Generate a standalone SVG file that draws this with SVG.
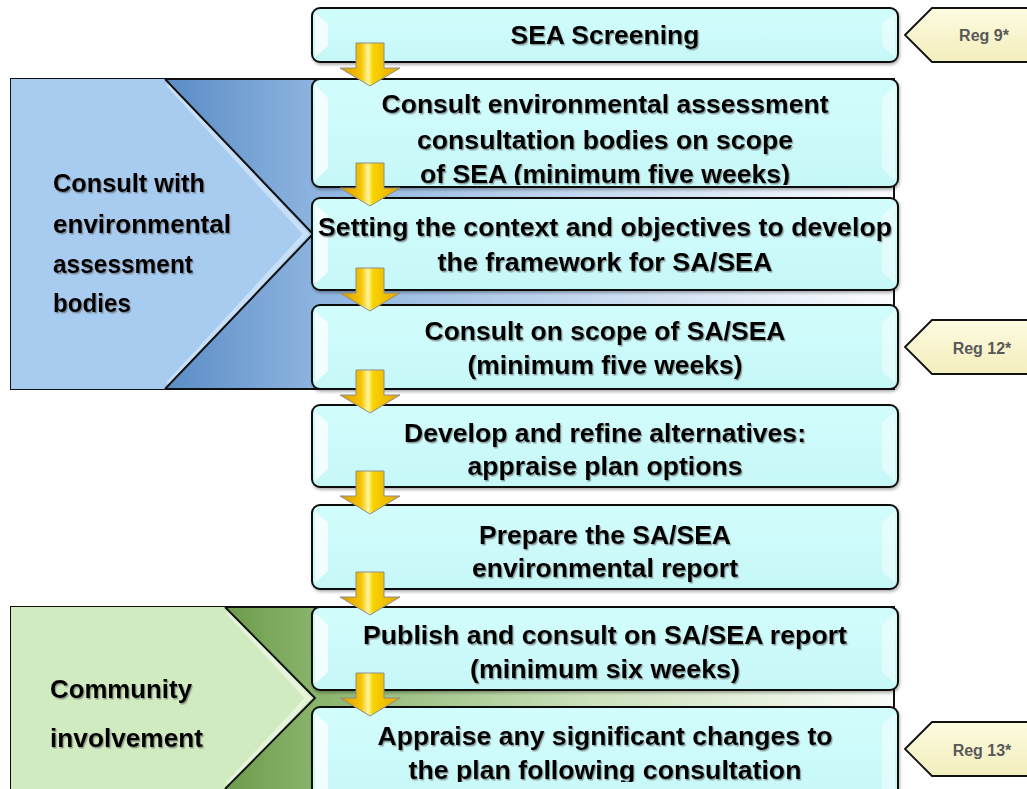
<svg xmlns="http://www.w3.org/2000/svg" width="1027" height="789" viewBox="0 0 1027 789">
<style>
.box{fill:url(#boxG);stroke:#111;stroke-width:2}
.bev{fill:#fff;opacity:0.75}
.bevR{fill:#fff;opacity:0.45}
.bt{font-family:"Liberation Sans",Arial,sans-serif;font-weight:bold;font-size:26px;fill:#000;text-anchor:middle;filter:url(#ts)}
.pt{font-family:"Liberation Sans",Arial,sans-serif;font-weight:bold;font-size:25px;fill:#000;filter:url(#ts)}
.tag{fill:url(#tagG);stroke:#111;stroke-width:1.8}
.tt{font-family:"Liberation Sans",Arial,sans-serif;font-weight:bold;font-size:16px;fill:#595959;text-anchor:middle}
.arr{fill:url(#arrG);stroke:#8c8c8c;stroke-width:1}
.edge{fill:none;stroke:#111;stroke-width:2}
</style>
<defs>
<linearGradient id="boxG" x1="0" y1="0" x2="0" y2="1">
<stop offset="0" stop-color="#d3fdfd"/><stop offset="1" stop-color="#c6f7f7"/>
</linearGradient>
<linearGradient id="blueBg" gradientUnits="userSpaceOnUse" x1="165" y1="0" x2="893" y2="0">
<stop offset="0" stop-color="#5a8cc6"/><stop offset="0.2" stop-color="#8cb3df"/><stop offset="0.6" stop-color="#c8dbf0"/><stop offset="1" stop-color="#fbfcfe"/>
</linearGradient>
<linearGradient id="greenBg" gradientUnits="userSpaceOnUse" x1="225" y1="0" x2="893" y2="0">
<stop offset="0" stop-color="#6c9c4c"/><stop offset="0.14" stop-color="#8ab56d"/><stop offset="0.55" stop-color="#cde2bd"/><stop offset="1" stop-color="#fafcf8"/>
</linearGradient>
<linearGradient id="tagG" x1="0" y1="0" x2="0" y2="1">
<stop offset="0" stop-color="#fdfbe0"/><stop offset="1" stop-color="#f2eebd"/>
</linearGradient>
<linearGradient id="arrG" x1="0" y1="0" x2="1" y2="0">
<stop offset="0" stop-color="#d89a00"/><stop offset="0.35" stop-color="#f6c400"/><stop offset="0.47" stop-color="#fff59a"/><stop offset="0.55" stop-color="#f9d400"/><stop offset="1" stop-color="#e2a400"/>
</linearGradient>
<filter id="ts" x="-5%" y="-20%" width="110%" height="140%">
<feDropShadow dx="1.2" dy="1.5" stdDeviation="0.7" flood-color="#555" flood-opacity="0.55"/>
</filter>
<filter id="bs" x="-2%" y="-10%" width="104%" height="125%">
<feDropShadow dx="1" dy="2" stdDeviation="1.5" flood-color="#000" flood-opacity="0.3"/>
</filter>
<clipPath id="c2"><rect x="312" y="79" width="586" height="106"/></clipPath>
<clipPath id="c8"><rect x="312" y="707" width="586" height="75"/></clipPath>
<path id="arrow" d="M-14,-43 H14 V-18 H30 L0,0 L-30,-18 H-14 Z"/>
</defs>

<g id="panel-environmental">
<rect x="11" y="79" width="883" height="310" fill="url(#blueBg)" stroke="#111" stroke-width="2"/>
<polygon points="11,79 165,79 313,234 165,389 11,389" fill="#a8cbf0"/>
<polyline points="168,84 306,234 168,384" fill="none" stroke="#cfe4fa" stroke-width="5" opacity="0.8"/>
<polyline points="165,79 313,234 165,389" class="edge"/>
<text class="pt" x="53" y="192" textLength="152" lengthAdjust="spacingAndGlyphs">Consult with</text>
<text class="pt" x="53" y="233" textLength="178" lengthAdjust="spacingAndGlyphs">environmental</text>
<text class="pt" x="53" y="273" textLength="140" lengthAdjust="spacingAndGlyphs">assessment</text>
<text class="pt" x="53" y="312" textLength="78" lengthAdjust="spacingAndGlyphs">bodies</text>
</g>

<g id="panel-community">
<rect x="11" y="607" width="883" height="200" fill="url(#greenBg)" stroke="#111" stroke-width="2"/>
<polygon points="11,607 225,607 315,698 225,789 11,789" fill="#d1ebc1"/>
<polyline points="228,612 308,698 228,784" fill="none" stroke="#eaf6e0" stroke-width="5" opacity="0.8"/>
<polyline points="225,607 315,698 225,789" class="edge"/>
<text class="pt" x="50" y="698" textLength="142" lengthAdjust="spacingAndGlyphs">Community</text>
<text class="pt" x="50" y="747" textLength="153" lengthAdjust="spacingAndGlyphs">involvement</text>
</g>

<g id="node1">
<rect class="box" x="312" y="8" width="586" height="54" rx="8" filter="url(#bs)"/>
<polygon class="bev" points="315,13 328,24 328,46 315,57"/>
<polygon class="bevR" points="895,13 882,24 882,46 895,57"/>
<text class="bt" x="605" y="44" textLength="189" lengthAdjust="spacingAndGlyphs">SEA Screening</text>
</g>
<g id="node2">
<rect class="box" x="312" y="79" width="586" height="108" rx="8" filter="url(#bs)"/>
<polygon class="bev" points="315,85 328,98 328,168 315,181"/>
<polygon class="bevR" points="895,85 882,98 882,168 895,181"/>
<g clip-path="url(#c2)">
<text class="bt" x="605" y="113" textLength="447" lengthAdjust="spacingAndGlyphs">Consult environmental assessment</text>
<text class="bt" x="605" y="149" textLength="376" lengthAdjust="spacingAndGlyphs">consultation bodies on scope</text>
<text class="bt" x="605" y="183" textLength="370" lengthAdjust="spacingAndGlyphs">of SEA (minimum five weeks)</text>
</g>
</g>
<g id="node3">
<rect class="box" x="312" y="198" width="586" height="92" rx="8" filter="url(#bs)"/>
<polygon class="bev" points="315,204 328,216 328,272 315,284"/>
<polygon class="bevR" points="895,204 882,216 882,272 895,284"/>
<text class="bt" x="605" y="236" textLength="574" lengthAdjust="spacingAndGlyphs">Setting the context and objectives to develop</text>
<text class="bt" x="605" y="271" textLength="335" lengthAdjust="spacingAndGlyphs">the framework for SA/SEA</text>
</g>
<g id="node4">
<rect class="box" x="312" y="305" width="586" height="84" rx="8" filter="url(#bs)"/>
<polygon class="bev" points="315,311 328,323 328,371 315,383"/>
<polygon class="bevR" points="895,311 882,323 882,371 895,383"/>
<text class="bt" x="605" y="340" textLength="361" lengthAdjust="spacingAndGlyphs">Consult on scope of SA/SEA</text>
<text class="bt" x="605" y="374" textLength="275" lengthAdjust="spacingAndGlyphs">(minimum five weeks)</text>
</g>
<g id="node5">
<rect class="box" x="312" y="405" width="586" height="82" rx="8" filter="url(#bs)"/>
<polygon class="bev" points="315,411 328,423 328,469 315,481"/>
<polygon class="bevR" points="895,411 882,423 882,469 895,481"/>
<text class="bt" x="605" y="442" textLength="402" lengthAdjust="spacingAndGlyphs">Develop and refine alternatives:</text>
<text class="bt" x="605" y="475" textLength="275" lengthAdjust="spacingAndGlyphs">appraise plan options</text>
</g>
<g id="node6">
<rect class="box" x="312" y="505" width="586" height="84" rx="8" filter="url(#bs)"/>
<polygon class="bev" points="315,511 328,523 328,571 315,583"/>
<polygon class="bevR" points="895,511 882,523 882,571 895,583"/>
<text class="bt" x="605" y="544" textLength="252" lengthAdjust="spacingAndGlyphs">Prepare the SA/SEA</text>
<text class="bt" x="605" y="577" textLength="266" lengthAdjust="spacingAndGlyphs">environmental report</text>
</g>
<g id="node7">
<rect class="box" x="312" y="607" width="586" height="83" rx="8" filter="url(#bs)"/>
<polygon class="bev" points="315,613 328,625 328,672 315,684"/>
<polygon class="bevR" points="895,613 882,625 882,672 895,684"/>
<text class="bt" x="605" y="644" textLength="484" lengthAdjust="spacingAndGlyphs">Publish and consult on SA/SEA report</text>
<text class="bt" x="605" y="678" textLength="270" lengthAdjust="spacingAndGlyphs">(minimum six weeks)</text>
</g>
<g id="node8">
<rect class="box" x="312" y="707" width="586" height="100" rx="8" filter="url(#bs)"/>
<polygon class="bev" points="315,713 328,725 328,790 315,795"/>
<polygon class="bevR" points="895,713 882,725 882,790 895,795"/>
<g clip-path="url(#c8)">
<text class="bt" x="605" y="745" textLength="455" lengthAdjust="spacingAndGlyphs">Appraise any significant changes to</text>
<text class="bt" x="605" y="779" textLength="393" lengthAdjust="spacingAndGlyphs">the plan following consultation</text>
</g>
</g>

<g id="reg9">
<polygon class="tag" points="905,35 932,8 1035,8 1035,62 932,62"/>
<text class="tt" x="984" y="41">Reg 9*</text>
</g>
<g id="reg12">
<polygon class="tag" points="905,347 932,320 1035,320 1035,374 932,374"/>
<text class="tt" x="982" y="354">Reg 12*</text>
</g>
<g id="reg13">
<polygon class="tag" points="905,749 932,722 1035,722 1035,776 932,776"/>
<text class="tt" x="982" y="756">Reg 13*</text>
</g>

<g id="connectors">
<use href="#arrow" class="arr" transform="translate(370,86)"/>
<use href="#arrow" class="arr" transform="translate(370,206)"/>
<use href="#arrow" class="arr" transform="translate(370,311)"/>
<use href="#arrow" class="arr" transform="translate(370,413)"/>
<use href="#arrow" class="arr" transform="translate(370,514)"/>
<use href="#arrow" class="arr" transform="translate(370,615)"/>
<use href="#arrow" class="arr" transform="translate(370,716)"/>
</g>
</svg>
